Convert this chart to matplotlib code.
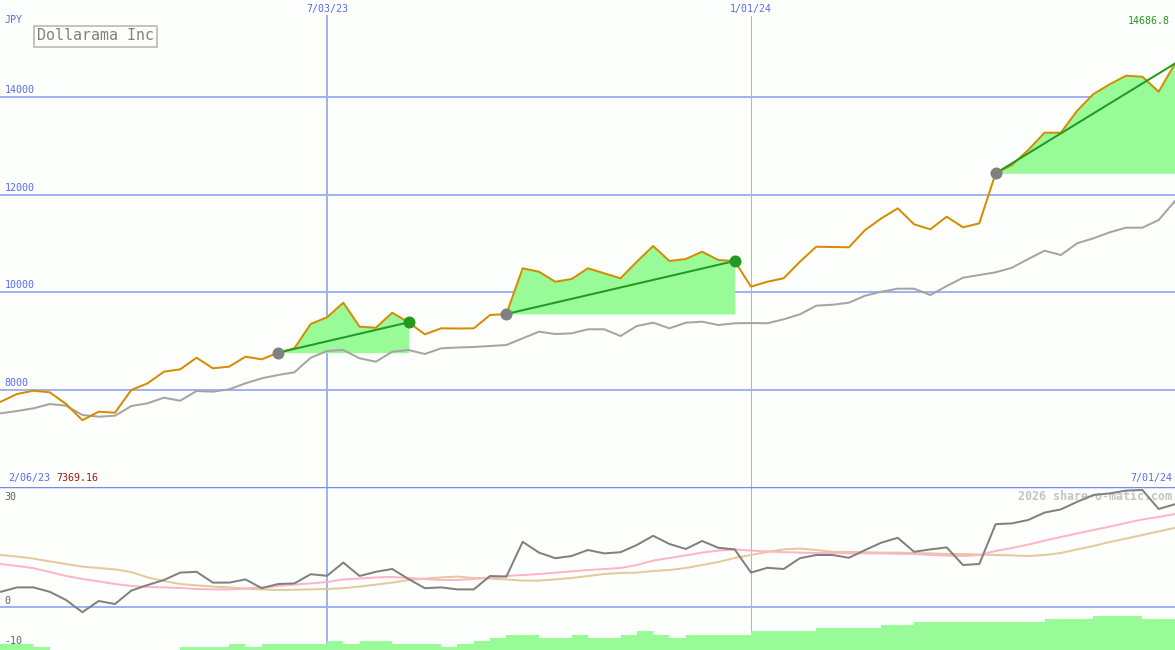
import numpy as np
import pandas as pd
import matplotlib
matplotlib.use("Agg")
import matplotlib.pyplot as plt
import matplotlib.dates as mdates
from datetime import datetime

# weekly closes, 2/06/23 .. 7/01/24
weeks = pd.date_range("2023-02-06", periods=74, freq="7D")

price = np.array([
    7682, 7750, 7908, 7975, 7942, 7702, 7369.16, 7545, 7524, 7990,
    8127, 8365, 8414, 8652, 8435, 8468, 8673, 8619, 8755, 8845,
    9344, 9481, 9780, 9288, 9268, 9575, 9378, 9132, 9255, 9251,
    9255, 9528, 9549, 10486, 10416, 10211, 10267, 10486, 10384, 10281,
    10622, 10944, 10636, 10677, 10827, 10656, 10636, 10109, 10211, 10281,
    10622, 10929, 10923, 10917, 11272, 11512, 11717, 11389, 11286, 11545,
    11327, 11409, 12435, 12605, 12913, 13268, 13268, 13719, 14062, 14261,
    14437, 14416, 14109, 14686.8])

index_line = np.array([
    7477, 7512, 7559, 7614, 7702, 7668, 7477, 7442, 7462, 7661,
    7717, 7832, 7770, 7969, 7955, 8004, 8127, 8230, 8297, 8353,
    8652, 8790, 8810, 8640, 8570, 8775, 8810, 8728, 8845, 8861,
    8872, 8892, 8913, 9050, 9186, 9138, 9152, 9235, 9235, 9097,
    9303, 9370, 9255, 9370, 9391, 9323, 9358, 9364, 9358, 9440,
    9542, 9719, 9739, 9781, 9924, 10006, 10068, 10068, 9938, 10123,
    10293, 10349, 10404, 10498, 10677, 10847, 10759, 10999, 11102, 11225,
    11319, 11319, 11477, 11867])

momentum = [
    3.75, 3.8, 4.9, 4.9, 3.8, 1.75, -1.3, 1.5, 0.75, 4.1,
    5.5, 6.75, 8.6, 8.8, 6.1, 6.1, 6.9, 4.7, 5.75, 5.9,
    8.2, 7.8, 11.1, 7.75, 8.8, 9.5, 7.0, 4.7, 4.9, 4.4,
    4.4, 7.75, 7.6, 16.3, 13.6, 12.2, 12.75, 14.25, 13.4, 13.7,
    15.5, 17.8, 15.75, 14.5, 16.5, 14.8, 14.4, 8.6, 9.8, 9.5,
    12.2, 13.0, 13.0, 12.3, 14.25, 16.1, 17.3, 13.8, 14.4, 14.9,
    10.5, 10.75, 20.7, 20.9, 21.75, 23.6, 24.4, 26.3, 28.0, 28.4,
    29.1, 29.25, 24.5, 25.7]

avg_fast = [
    11.0, 10.75, 10.25, 9.7, 8.75, 7.75, 7.0, 6.4, 5.75, 5.25,
    5.0, 4.9, 4.75, 4.5, 4.4, 4.4, 4.6, 4.9, 5.25, 5.6,
    5.9, 6.25, 6.9, 7.1, 7.4, 7.5, 7.25, 7.0, 6.75, 6.75,
    7.0, 7.4, 7.75, 8.0, 8.25, 8.6, 8.9, 9.25, 9.5, 9.75,
    10.5, 11.6, 12.25, 12.9, 13.6, 14.1, 14.4, 14.1, 13.9, 13.7,
    13.6, 13.5, 13.5, 13.4, 13.4, 13.4, 13.3, 13.25, 13.0, 12.9,
    12.75, 13.0, 14.0, 14.75, 15.6, 16.6, 17.5, 18.4, 19.25, 20.1,
    21.0, 21.9, 22.5, 23.25]

avg_slow = [
    13.3, 13.0, 12.6, 12.1, 11.4, 10.75, 10.1, 9.75, 9.4, 8.75,
    7.4, 6.5, 5.75, 5.4, 5.1, 4.9, 4.6, 4.4, 4.25, 4.3,
    4.4, 4.5, 4.7, 5.1, 5.6, 6.1, 6.75, 7.1, 7.4, 7.6,
    7.25, 7.1, 6.9, 6.6, 6.6, 6.9, 7.25, 7.75, 8.25, 8.5,
    8.6, 9.0, 9.25, 9.75, 10.5, 11.25, 12.25, 13.0, 13.75, 14.4,
    14.6, 14.25, 13.8, 13.75, 13.7, 13.6, 13.6, 13.5, 13.4, 13.25,
    13.25, 13.1, 13.0, 12.9, 12.75, 13.0, 13.5, 14.4, 15.25, 16.25,
    17.1, 18.0, 18.9, 19.8]

vol_level = [
    2, 2, 2, 1, 0, 0, 0, 0, 0, 0,
    0, 0, 1, 1, 1, 2, 1, 2, 2, 2,
    2, 3, 2, 3, 3, 2, 2, 2, 1, 2,
    3, 4, 5, 5, 4, 4, 5, 4, 4, 5,
    6, 5, 4, 5, 5, 5, 5, 6, 6, 6,
    6, 7, 7, 7, 7, 8, 8, 9, 9, 9,
    9, 9, 9, 9, 9, 10, 10, 10, 11, 11,
    11, 10, 10, 10]

# (entry week, exit week, closed?)
trades = [(18, 26, True), (32, 46, True), (62, 73, False)]

price_ticks = [8000, 10000, 12000, 14000]
mom_ticks = [30, 0, -10]
date_marks = [datetime(2023, 7, 3), datetime(2024, 1, 1)]
date_labels = ["7/03/23", "1/01/24"]

BG = "#fcfffc"
GRID = "#a3b2f2"
BLUE = "#5a6af0"
MONO = "DejaVu Sans Mono"
PX = 72 / 100.0

fig = plt.figure(figsize=(11.75, 6.5), dpi=100, facecolor=BG)
ax = fig.add_axes([0, 163 / 650, 1, 487 / 650], facecolor=BG)
axl = fig.add_axes([0, 0, 1, 163 / 650], facecolor=BG)
for a in (ax, axl):
    for s in a.spines.values():
        s.set_visible(False)
    a.set_xticks([])
    a.set_yticks([])

right = mdates.date2num(datetime(2024, 7, 1))
px_day = 424 / 182.0
left = mdates.date2num(datetime(2023, 7, 3)) - 327 / px_day
ax.set_xlim(left, right)
axl.set_xlim(left, right)
ax.set_ylim(6000, 15990)
axl.set_ylim(-10.75, 30)

# grid
for v in price_ticks:
    ax.axhline(v, color=GRID, lw=2 * PX, zorder=1)
    ax.text(0.004, v + 40, str(v), transform=ax.get_yaxis_transform(),
            color=BLUE, fontsize=7.2, family=MONO, va="bottom", ha="left")
for d, lab, w in zip(date_marks, date_labels, [2, 1]):
    ax.axvline(d, color=GRID, lw=w * PX, zorder=1, ymax=1 - 16 / 487)
    axl.axvline(d, color=GRID, lw=w * PX, zorder=1)
    ax.text(d, 1 - 4 / 487, lab, transform=ax.get_xaxis_transform(),
            color=BLUE, fontsize=7.2, family=MONO, ha="center", va="top")

# trade shading and trend lines
for i0, i1, closed in trades:
    xs = weeks[i0:i1 + 1]
    ys = price[i0:i1 + 1]
    base = price[i0]
    ax.fill_between(xs, ys, base, where=ys >= base, interpolate=True,
                    color="#98fb98", lw=0, zorder=2)

ax.plot(weeks, index_line, color="#a4a4a4", lw=2 * PX, zorder=3)
ax.plot(weeks, price, color="#d48c00", lw=2 * PX, zorder=4)

for i0, i1, closed in trades:
    ax.plot([weeks[i0], weeks[i1]], [price[i0], price[i1]],
            color="#229922", lw=2 * PX, zorder=5)
    ax.plot(weeks[i0], price[i0], "o", color="#808080", ms=12 * PX, mew=0, zorder=6)
    if closed:
        ax.plot(weeks[i1], price[i1], "o", color="#229922", ms=12 * PX, mew=0, zorder=6)

fig.text(5 / 1175, 1 - 20 / 650, "JPY", color=BLUE, fontsize=7.2, family=MONO,
         va="center")
fig.text(37 / 1175, 1 - 36 / 650, "Dollarama Inc", color="#808080", fontsize=10.8,
         family=MONO, va="center", ha="left",
         bbox=dict(boxstyle="square,pad=0.2", fc="none", ec="#c4c4c4", lw=2 * PX))
fig.text(1170 / 1175, 1 - 21 / 650, "14686.8", color="#229922", fontsize=7.2,
         family=MONO, ha="right", va="center")
fig.text(8 / 1175, 1 - 478 / 650, "2/06/23", color=BLUE, fontsize=7.2,
         family=MONO, ha="left", va="center")
fig.text(56 / 1175, 1 - 478 / 650, "7369.16", color="#a01818", fontsize=7.2,
         family=MONO, ha="left", va="center")
fig.text(1172 / 1175, 1 - 478 / 650, "7/01/24", color=BLUE, fontsize=7.2,
         family=MONO, ha="right", va="center")

# lower panel
axl.axhline(30, color="#7888ee", lw=2.5 * PX, zorder=1)
axl.axhline(0, color=GRID, lw=2 * PX, zorder=1)
axl.text(1172 / 1175, 1 - 10 / 163, "2026 share-o-matic.com", transform=axl.transAxes,
         color="#c4c4c4", fontsize=8.4, family=MONO, weight="bold",
         ha="right", va="center", zorder=1)
for v, yoff in zip(mom_ticks, [-1.2, 0.3, 0.3]):
    axl.text(0.004, v + yoff, str(v), transform=axl.get_yaxis_transform(),
             color="#606060", fontsize=7.2, family=MONO, va="bottom" if v != 30 else "top")

axv = axl.twinx()
axv.set_ylim(0, 163 / 3.1)
axv.set_axis_off()
axv.fill_between(weeks, 0, vol_level, step="post", color="#98fb98", lw=0)

axl.plot(weeks, avg_slow, color="#e2ca9a", lw=2 * PX, zorder=2)
axl.plot(weeks, avg_fast, color="#ffb4c8", lw=2 * PX, zorder=3)
axl.plot(weeks, momentum, color="#808080", lw=2 * PX, zorder=4)

fig.savefig("out.png", dpi=100, facecolor=BG)
